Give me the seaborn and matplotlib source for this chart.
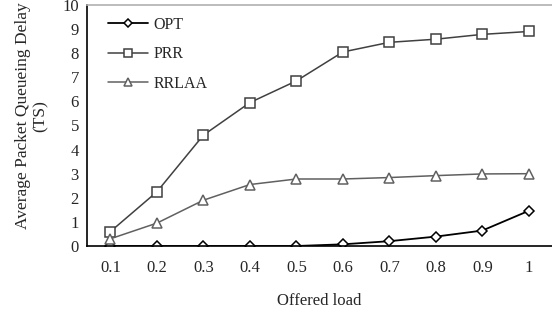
import matplotlib
matplotlib.use("Agg")
import matplotlib.pyplot as plt
import numpy as np
import pandas as pd
import seaborn as sns

# Data
loads = ["0.1", "0.2", "0.3", "0.4", "0.5", "0.6", "0.7", "0.8", "0.9", "1"]
opt = [0.0, 0.0, 0.0, 0.0, 0.0, 0.07, 0.2, 0.39, 0.64, 1.46]
prr = [0.6, 2.25, 4.6, 5.95, 6.85, 8.05, 8.45, 8.58, 8.78, 8.9]
rrlaa = [0.3, 0.95, 1.9, 2.55, 2.78, 2.78, 2.84, 2.92, 2.99, 3.0]

sns.set_style("white")
plt.rcParams["font.family"] = ["Liberation Serif", "DejaVu Serif"]

fig = plt.figure(figsize=(5.52, 3.11), dpi=100)
ax = fig.add_axes([0.158, 0.209, 0.842, 0.775])

pos = np.arange(len(loads))
series = [
    ("OPT", opt, "D", "#000000", 1.3, 5.5),
    ("PRR", prr, "s", "#404040", 1.1, 6.5),
    ("RRLAA", rrlaa, "^", "#606060", 1.1, 7),
]
for name, vals, mk, col, lw, ms in series:
    df = pd.DataFrame({"x": pos, "y": vals})
    sns.lineplot(data=df, x="x", y="y", ax=ax, color=col, linewidth=lw,
                 marker=mk, markersize=ms, markerfacecolor="white",
                 markeredgecolor=col, markeredgewidth=1.1, label=name)

ax.set_xlim(-0.5, 9.5)
ax.set_ylim(0, 10)
ax.set_yticks(range(0, 11))
ax.set_xticks(pos)
ax.set_xticklabels(loads)
ax.set_xticks(pos[:-1] + 0.5, minor=True)
ax.tick_params(axis="x", which="major", length=0, pad=10, labelsize=12)
ax.tick_params(axis="x", which="minor", direction="in", length=5, width=1, color="black")
ax.tick_params(axis="y", direction="out", length=4, width=1, color="black", labelsize=12, pad=2)

for s in ["left", "bottom"]:
    ax.spines[s].set_color("black")
    ax.spines[s].set_linewidth(1.2)
ax.spines["top"].set_color("#b0b0b0")
ax.spines["top"].set_linewidth(1.2)
ax.spines["right"].set_visible(False)

ax.set_xlabel("Offered load", fontsize=12, labelpad=12)
ax.set_ylabel("Average Packet Queueing Delay\n(TS)", fontsize=12.5, labelpad=10,
              linespacing=1.1)
ax.yaxis.label.set_y(0.54)

leg = ax.legend(loc="upper left", frameon=False, fontsize=11.5, handlelength=2.5,
                handletextpad=0.35, markerscale=0.8,
                borderaxespad=0.3, labelspacing=0.85, bbox_to_anchor=(0.02, 0.997))

fig.savefig("out.png", dpi=100)
